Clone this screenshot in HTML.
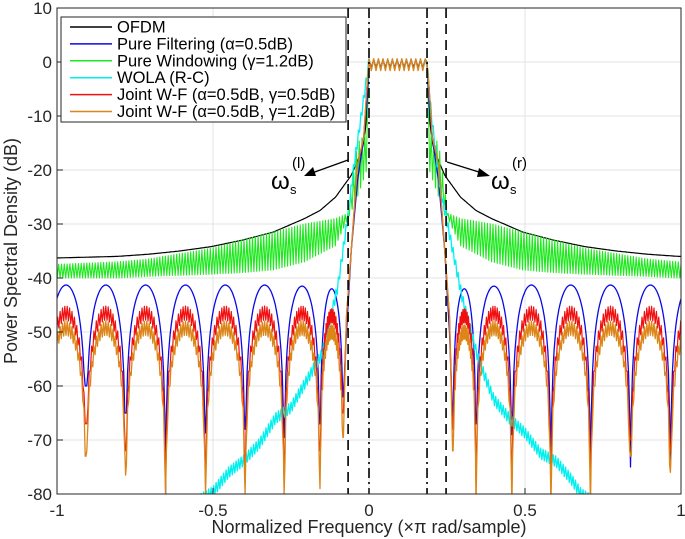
<!DOCTYPE html>
<html><head><meta charset="utf-8"><style>
body{margin:0;background:#fff}
svg{display:block;font-family:"Liberation Sans",sans-serif}
</style></head><body>
<svg id="chart" width="685" height="539" viewBox="0 0 685 539" xmlns="http://www.w3.org/2000/svg">
<rect width="685" height="539" fill="#fff"/>
<defs><clipPath id="pc"><rect x="57" y="8" width="624" height="486"/></clipPath></defs>
<g id="grid"></g>
<g id="series" clip-path="url(#pc)"></g>
<g id="vlines"></g>
<rect x="57" y="8" width="624" height="486" fill="none" stroke="#262626" stroke-width="1"/>
<g id="ticks"></g>
<text x="369" y="533" text-anchor="middle" font-size="18" fill="#262626">Normalized Frequency (×π rad/sample)</text>
<text transform="translate(17,251) rotate(-90)" text-anchor="middle" font-size="18" fill="#262626">Power Spectral Density (dB)</text>
<g>
<line x1="348" y1="160" x2="312" y2="173" stroke="#000" stroke-width="1.3"/>
<polygon points="304,176 313,167 316,176" fill="#000"/>
<text x="271" y="189" font-size="24">ω</text><text x="290" y="194" font-size="13">s</text><text x="292" y="168" font-size="15">(l)</text>
</g>
<g>
<line x1="447" y1="162" x2="482" y2="173" stroke="#000" stroke-width="1.3"/>
<polygon points="490,176 479,168 477,177" fill="#000"/>
<text x="491" y="189" font-size="24">ω</text><text x="510" y="194" font-size="13">s</text><text x="512" y="168" font-size="15">(r)</text>
</g>
<g id="legend">
<rect x="61" y="17" width="285" height="105" fill="#fff" stroke="#262626" stroke-width="1"/>
</g>
</svg>
<script>
const xTicks=[-1,-0.5,0,0.5,1];
const xTickLabels=["-1","-0.5","0","0.5","1"];
const yTicks=[10,0,-10,-20,-30,-40,-50,-60,-70,-80];
const yTickLabels=["10","0","-10","-20","-30","-40","-50","-60","-70","-80"];
const bandCenter=0.093;
const passLo=0, passHi=0.186;
const dashedF=[-0.067,0.247];
const dashDotF=[0,0.186];
// OFDM (distance from band center, dB)
const ofdmDist=[0.093,0.097,0.1,0.11,0.12,0.15,0.2,0.25,0.3,0.4,0.5,0.6,0.7,0.8,0.9,1.1];
const ofdmDb=[0,-5,-10,-15,-17,-21,-25,-27.5,-29,-31.5,-33,-34.2,-35,-35.6,-36,-36.3];
// Pure windowing envelopes
const winDist=[0.093,0.1,0.13,0.16,0.2,0.3,0.4,0.5,0.6,0.7,0.8,0.9,1.1];
const winUpper=[0,-13,-15,-28,-29,-30,-31.5,-33,-34.5,-35.5,-36.5,-37,-37.5];
const winLower=[0,-20,-25,-29,-34,-37,-38.5,-39,-39.3,-39.5,-39.7,-40,-40];
// Filter transition then lobes
const transDist=[0.093,0.1,0.11,0.13,0.15,0.165];
const transDb=[0,-8,-14,-22,-35,-50];
const nullDist=[0.175,0.25,0.365,0.49,0.617,0.745,0.873,1.0,1.128];
const blueLobePeak=[-42,-41.5,-41.3,-41.3,-41.3,-41.3,-41.3,-41.3];
const blueNullLeft=[-62,-67,-69.5,-68,-68.7,-80,-65,-60,-62];
const blueNullRight=[-66,-67,-69,-75,-78,-75,-75,-70,-70];
const redLobePeak=[-47,-46.5,-46.5,-46.5,-46.5,-46.5,-46.5,-46.5];
const redNullLeft=[-65,-72,-78,-78,-78,-78,-72,-67,-67];
const redNullRight=[-68,-78,-78,-78,-78,-70,-72,-70,-70];
const orangeLobePeak=[-50,-49.3,-49.3,-49.3,-49.3,-49.3,-49.3,-49.3];
const orangeNullLeft=[-69.5,-79,-80,-80,-80,-80,-76.5,-73,-73];
const orangeNullRight=[-72,-82,-82,-82,-82,-73,-76,-74,-74];
// WOLA
const cyanLeftF=[0,-0.02,-0.05,-0.07,-0.1,-0.15,-0.2,-0.25,-0.3,-0.35,-0.4,-0.45,-0.5,-0.57];
const cyanLeftDb=[0,-8,-20,-29.5,-41.6,-54,-59,-64,-66,-70.6,-73.7,-76,-79.6,-82];
const cyanRightF=[0.186,0.2,0.23,0.25,0.3,0.35,0.4,0.45,0.5,0.55,0.6,0.65,0.68,0.74];
const cyanRightDb=[0,-10,-24,-29.6,-44,-55,-62.5,-66,-68.7,-72.5,-74,-77.4,-80,-82];

const X=f=>369+312*f, Y=d=>62-5.4*d;
const NS="http://www.w3.org/2000/svg";
function mk(tag,attrs,parent){const e=document.createElementNS(NS,tag);for(const k in attrs)e.setAttribute(k,attrs[k]);parent.appendChild(e);return e;}
function interp(xs,ys,x){if(x<=xs[0])return ys[0];for(let i=1;i<xs.length;i++){if(x<=xs[i]){const t=(x-xs[i-1])/(xs[i]-xs[i-1]);return ys[i-1]+t*(ys[i]-ys[i-1]);}}return ys[ys.length-1];}
const grid=document.getElementById('grid'),ticks=document.getElementById('ticks'),ser=document.getElementById('series'),vl=document.getElementById('vlines'),leg=document.getElementById('legend');
xTicks.forEach((v,i)=>{
 const g=mk('line',{x1:X(v),x2:X(v),y1:8,y2:494,stroke:'#e3e3e3','stroke-width':1},grid);
 
 
 const t=mk('line',{x1:X(v),x2:X(v),y1:494,y2:488,stroke:'#262626'},ticks);
 
 
 const l=mk('text',{x:X(v),y:516,'text-anchor':'middle','font-size':17,fill:'#262626'},ticks);l.textContent=xTickLabels[i];
 
 
});
yTicks.forEach((v,i)=>{
 const g=mk('line',{x1:57,x2:681,y1:Y(v),y2:Y(v),stroke:'#e3e3e3','stroke-width':1},grid);
 
 
 const t=mk('line',{x1:57,x2:63,y1:Y(v),y2:Y(v),stroke:'#262626'},ticks);
 
 
 const l=mk('text',{x:52,y:Y(v)+6,'text-anchor':'end','font-size':17,fill:'#262626'},ticks);l.textContent=yTickLabels[i];
 
 
});
function passband(amp){const pts=[];let k=0;for(let f=passLo;f<=passHi+1e-9;f+=0.0075){pts.push([f,(k++%2)?-1.6*amp:0.6*amp]);}return pts;}
function draw(pts,color,name,w){
 const d=pts.map((p,i)=>(i?'L':'M')+X(p[0]).toFixed(1)+','+Y(Math.max(-85,p[1])).toFixed(1)).join('');
 const p=mk('path',{d:d,fill:'none',stroke:color,'stroke-width':w||1.2,'stroke-linejoin':'round'},ser);
 
 
}
function fullCurve(sideFn,amp){
 const L=sideFn(-1).map(p=>[bandCenter-p[0],p[1]]).reverse();
 const R=sideFn(1).map(p=>[bandCenter+p[0],p[1]]);
 return L.concat(passband(amp)).concat(R);
}
draw(fullCurve(s=>{const o=[];for(let d=0.093;d<=1.1;d+=0.004)o.push([d,interp(ofdmDist,ofdmDb,d)]);return o;},0.6),'#000','series-ofdm',1.2);
function lobed(peaks,nullsL,nullsR,jag){return s=>{
 const nulls=s<0?nullsL:nullsR;const o=[];
 transDist.forEach((d,i)=>o.push([d,transDb[i]+(jag&&i%2?3:0)]));
 o.push([nullDist[0],nulls[0]]);
 let k=0;
 for(let j=0;j<nullDist.length-1;j++){
  const a=nullDist[j],b=nullDist[j+1],pk=peaks[Math.min(j,peaks.length-1)];
  for(let t=0.02;t<1;t+=0.03){
   let v=pk+20*Math.log10(Math.sin(Math.PI*t));
   if(jag)v+=(k++%2?-1.3:1.3);
   const nv=t<0.5?nulls[j]:nulls[j+1];
   o.push([a+(b-a)*t,Math.max(v,nv)]);
  }
  o.push([b,nulls[j+1]]);
 }
 return o;};}
draw(fullCurve(s=>{const o=[];let k=0;for(let d=0.093;d<=1.1;d+=0.0045){o.push([d,(k++%2)?interp(winDist,winUpper,d):interp(winDist,winLower,d)]);}return o;},0.6),'#1ee81e','series-pure-windowing',1.1);
draw(fullCurve(lobed(blueLobePeak,blueNullLeft,blueNullRight,false),0.8),'#0a0ae6','series-pure-filtering',1.3);
(function(){
 const pts=[];let k=0;
 for(let f=-0.57;f<=0;f+=0.004)pts.push([f,interp(cyanLeftF.slice().reverse(),cyanLeftDb.slice().reverse(),f)+((k++%2)?-1:1)]);
 passband(0.9).forEach(p=>pts.push(p));
 for(let f=0.186;f<=0.74;f+=0.004)pts.push([f,interp(cyanRightF,cyanRightDb,f)+((k++%2)?-1:1)]);
 draw(pts,'#00f0f0','series-wola',1.3);
})();
draw(fullCurve(lobed(redLobePeak,redNullLeft,redNullRight,true),0.8),'#f01010','series-joint-wf-05',1.2);
draw(fullCurve(lobed(orangeLobePeak,orangeNullLeft,orangeNullRight,true),1),'#dc8518','series-joint-wf-12',1.3);
dashedF.forEach(f=>{const l=mk('line',{x1:X(f),x2:X(f),y1:8,y2:494,stroke:'#000','stroke-width':1.6,'stroke-dasharray':'10,6'},vl);
 
 });
dashDotF.forEach(f=>{const l=mk('line',{x1:X(f),x2:X(f),y1:8,y2:494,stroke:'#000','stroke-width':1.6,'stroke-dasharray':'10,4,2,4'},vl);
 
 });
const legNames=["OFDM","Pure Filtering (α=0.5dB)","Pure Windowing (γ=1.2dB)","WOLA (R-C)","Joint W-F (α=0.5dB, γ=0.5dB)","Joint W-F (α=0.5dB, γ=1.2dB)"];
const legColors=['#000','#0a0ae6','#1ee81e','#00f0f0','#f01010','#dc8518'];
legNames.forEach((n,i)=>{
 const y=27+i*16.9;
 const g=mk('g',{},leg);
 
 
 mk('line',{x1:70,x2:112,y1:y,y2:y,stroke:legColors[i],'stroke-width':1.5},g);
 const t=mk('text',{x:117,y:y+5.5,'font-size':16.5,fill:'#000'},g);t.textContent=n;
});
</script>
</body></html>
